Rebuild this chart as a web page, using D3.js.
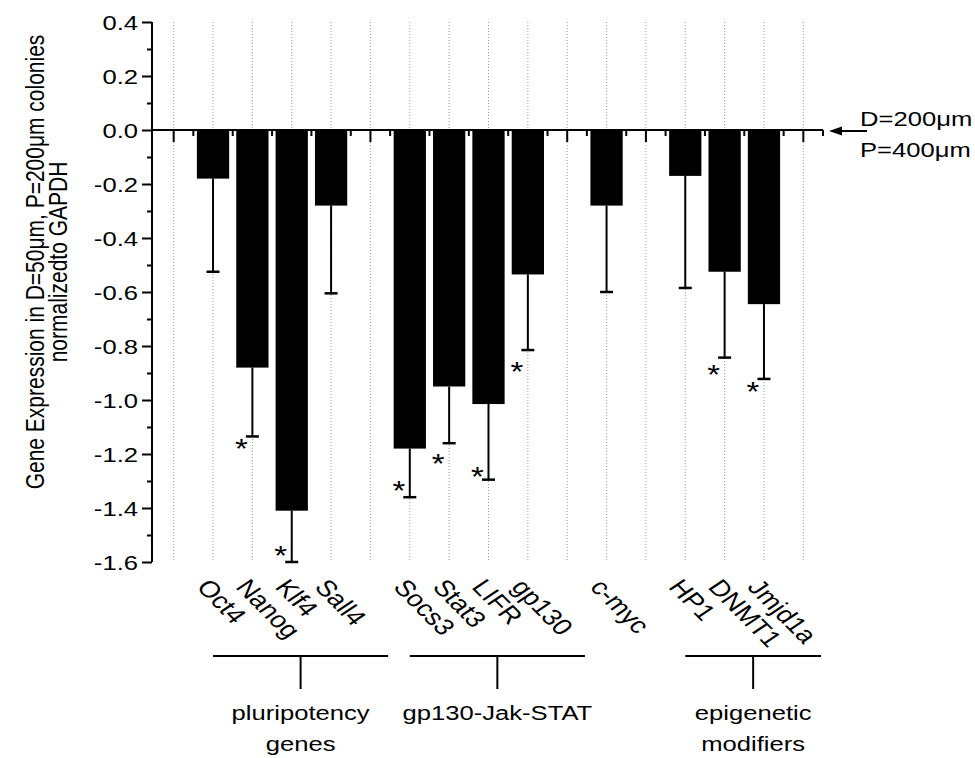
<!DOCTYPE html>
<meta charset="utf-8">
<style>
 body { margin: 0; background: #fff; }
 svg { font-family: "Liberation Sans", Arial, sans-serif; background: #fff; }
 .axis path, .axis line { fill: none; stroke: #000; stroke-width: 2px; }
 .grid line { stroke: #9a9a9a; stroke-width: 1px; stroke-dasharray: 1,2; }
</style>
<body>
<svg width="975" height="758"></svg>
<script src="https://cdn.jsdelivr.net/npm/d3@7"></script>
<script>

 // slots along the x axis, empty ones are just spacers with a grid line
 var slots = ["gap0", "Oct4", "Nanog", "Klf4", "Sall4", "gap1", "Socs3", "Stat3", "LIFR", "gp130",
              "gap2", "c-myc", "gap3", "HP1", "DNMT1", "Jmjd1a", "gap4"];
 var genes = ["Oct4", "Nanog", "Klf4", "Sall4", "Socs3", "Stat3", "LIFR", "gp130", "c-myc", "HP1", "DNMT1", "Jmjd1a"];
 var means = [-0.18, -0.88, -1.41, -0.28, -1.18, -0.95, -1.015, -0.535, -0.28, -0.17, -0.525, -0.645];
 var errEnd = [-0.525, -1.135, -1.60, -0.605, -1.36, -1.16, -1.295, -0.815, -0.60, -0.585, -0.843, -0.922];
 // where the * sits (value units), null = not significant
 var stars = [null, -1.155, -1.552, null, -1.311, -1.211, -1.259, -0.870, null, null, -0.881, -0.944];
 var groupNames = [["pluripotency", "genes"], ["gp130-Jak-STAT"], ["epigenetic", "modifiers"]];
 var groupFirst = ["Oct4", "Socs3", "HP1"];
 var groupLast = ["Sall4", "gp130", "Jmjd1a"];
 var yMajor = [0.4, 0.2, 0.0, -0.2, -0.4, -0.6, -0.8, -1.0, -1.2, -1.4, -1.6];
 var yTitle = ["Gene Expression in D=50\u03bcm, P=200\u03bcm colonies", "normalizedto GAPDH"];
 var refLabel = ["D=200\u03bcm", "P=400\u03bcm"];

 var SX = 1.22; // picture is stretched sideways, text too

 var svg = d3.select("svg");
 var pLeft = 152, pRight = 823, pTop = 22, pBottom = 562;

 var x = d3.scaleBand().domain(slots).range([154, pRight]);
 var y = d3.scaleLinear().domain([-1.6, 0.4]).range([pBottom, pTop]);
 var bw = x.bandwidth();
 function cx(s) { return x(s) + bw / 2; }

 var rows = genes.map(function(g, i) {
     return {gene: g, mean: means[i], err: errEnd[i], star: stars[i]};
 });

 // dotted grid at each slot
 svg.append("g").attr("class", "grid")
    .selectAll("line").data(slots).enter().append("line")
    .attr("x1", cx).attr("x2", cx)
    .attr("y1", pTop).attr("y2", pBottom);

 // bars
 svg.append("g").selectAll("rect").data(rows).enter().append("rect")
    .attr("x", function(d) { return cx(d.gene) - bw * 0.41; })
    .attr("width", bw * 0.82)
    .attr("y", y(0))
    .attr("height", function(d) { return y(d.mean) - y(0); })
    .attr("fill", "#000");

 // error bars
 var eb = svg.append("g").attr("stroke", "#000");
 eb.selectAll(".stem").data(rows).enter().append("line")
    .attr("stroke-width", 2)
    .attr("x1", function(d) { return cx(d.gene); }).attr("x2", function(d) { return cx(d.gene); })
    .attr("y1", function(d) { return y(d.mean); }).attr("y2", function(d) { return y(d.err); });
 eb.selectAll(".cap").data(rows).enter().append("line")
    .attr("stroke-width", 2.5)
    .attr("x1", function(d) { return cx(d.gene) - 6.5; }).attr("x2", function(d) { return cx(d.gene) + 6.5; })
    .attr("y1", function(d) { return y(d.err); }).attr("y2", function(d) { return y(d.err); });

 // stars
 svg.append("g").selectAll("text").data(rows.filter(function(d) { return d.star != null; }))
    .enter().append("text")
    .attr("transform", function(d) { return "translate(" + (cx(d.gene) - 11) + "," + y(d.star) + ") scale(" + SX + ",1)"; })
    .attr("text-anchor", "middle")
    .attr("dy", "0.6em")
    .style("font-size", "27px")
    .text("*");

 // y axis, major + minor ticks
 var yAxisG = svg.append("g").attr("class", "axis")
    .attr("transform", "translate(" + pLeft + ",0)")
    .call(d3.axisLeft(y).tickValues(d3.range(-1.5, 0.4, 0.2)).tickSize(5).tickFormat(""));
 yAxisG.select(".domain").remove();
 var yAxisMaj = svg.append("g").attr("class", "axis")
    .attr("transform", "translate(" + pLeft + ",0)")
    .call(d3.axisLeft(y).tickValues(yMajor).tickSize(10).tickSizeOuter(0)
          .tickFormat(function(d) { return d.toFixed(1); }));
 yAxisMaj.selectAll("text")
    .attr("x", null).attr("dy", "0.36em")
    .attr("transform", "translate(-14,0) scale(" + SX + ",1)")
    .style("font-size", "21px").attr("fill", "#000");
 yAxisMaj.select(".domain").attr("d", "M0," + pTop + "V" + pBottom);

 // x axis along zero
 var xAxisG = svg.append("g").attr("class", "axis")
    .attr("transform", "translate(0," + y(0) + ")")
    .call(d3.axisBottom(x).tickSize(12).tickFormat(""));
 xAxisG.select(".domain").attr("d", "M" + pLeft + ",0H" + pRight);
 xAxisG.selectAll(".minor").data(slots.slice(1).map(function(s) { return x(s); }).concat([pRight]))
    .enter().append("line").attr("class", "minor")
    .attr("x1", function(d) { return d; }).attr("x2", function(d) { return d; })
    .attr("y1", 0).attr("y2", 6);

 // slanted gene names
 svg.append("g").selectAll("text").data(genes).enter().append("text")
    .attr("transform", function(d) {
        return "translate(" + (cx(d) - 2) + ",577) scale(" + SX + ",1) rotate(50.7)";
    })
    .attr("dy", "0.72em")
    .style("font-size", "23px")
    .text(function(d) { return d; });

 // group brackets
 var step = x.step();
 var gb = svg.append("g");
 groupNames.forEach(function(names, i) {
     var x0 = cx(groupFirst[i]),
         x1 = cx(groupLast[i]) + 1.45 * step,
         xm = (x0 + x1) / 2;
     gb.append("line").attr("x1", x0).attr("x2", x1).attr("y1", 656).attr("y2", 656)
       .attr("stroke", "#000").attr("stroke-width", 2);
     gb.append("line").attr("x1", xm).attr("x2", xm).attr("y1", 656).attr("y2", 689)
       .attr("stroke", "#000").attr("stroke-width", 2);
     names.forEach(function(n, j) {
         gb.append("text")
           .attr("transform", "translate(" + xm + "," + (720 + j * 31) + ") scale(" + SX + ",1)")
           .attr("text-anchor", "middle")
           .style("font-size", "21px")
           .text(n);
     });
 });

 // y title
 yTitle.forEach(function(t, i) {
     svg.append("text")
        .attr("transform", "translate(" + (44 + i * 23) + ",262) scale(" + SX + ",1) rotate(-90)")
        .attr("text-anchor", "middle")
        .style("font-size", "21px")
        .text(t);
 });

 // reference arrow at zero
 var ay = y(0) + 1;
 svg.append("line").attr("x1", 838).attr("x2", 867).attr("y1", ay).attr("y2", ay)
    .attr("stroke", "#000").attr("stroke-width", 2);
 svg.append("path").attr("d", "M829," + ay + "l13,-4.5v9z").attr("fill", "#000");
 refLabel.forEach(function(t, i) {
     svg.append("text")
        .attr("transform", "translate(860," + (126 + i * 31) + ") scale(" + SX + ",1)")
        .style("font-size", "21px")
        .text(t);
 });

</script>
</body>
